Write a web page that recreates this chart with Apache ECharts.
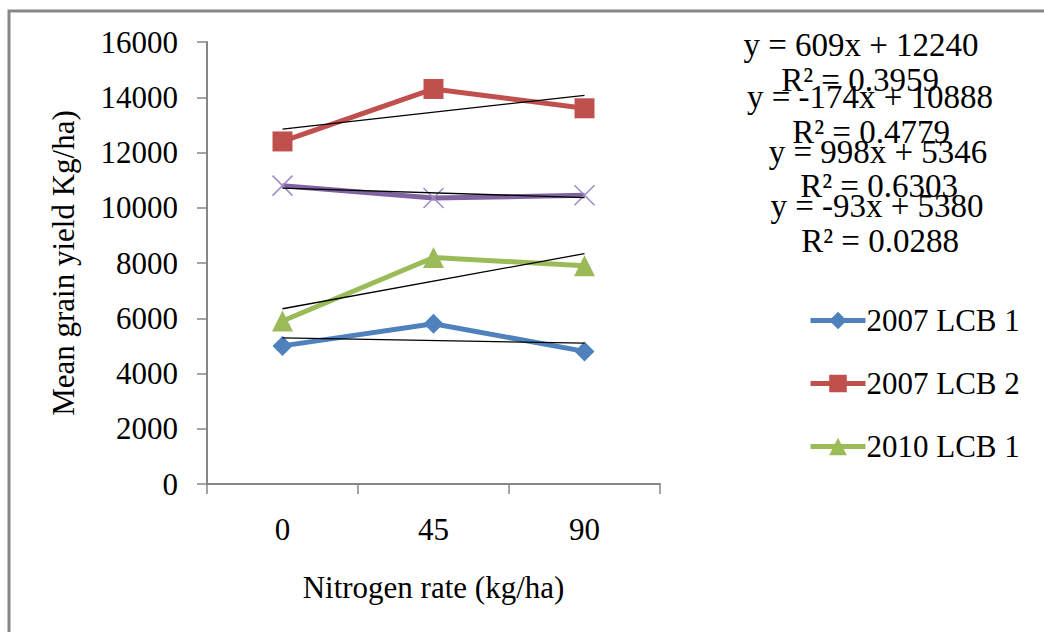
<!DOCTYPE html>
<html>
<head>
<meta charset="utf-8">
<script src="https://cdn.jsdelivr.net/npm/echarts@6/dist/echarts.min.js"></script>
<style>
  html, body { margin: 0; padding: 0; background: #fff; }
  #chart { width: 1044px; height: 632px; }
</style>
</head>
<body>
<div id="chart"></div>
<script>
// nitrogen rates (x categories)
const categories = ['0', '45', '90']
// mean grain yield per site/year
const lcb1_2007 = [5000, 5800, 4800]
const lcb2_2007 = [12400, 14300, 13600]
const lcb1_2010 = [5900, 8200, 7900]
const lcb2_2010 = [10800, 10350, 10450]
// linear trend lines as printed on the chart (x = 1..3)
const trendSlope = [609, -174, 998, -93]
const trendIntercept = [12240, 10888, 5346, 5380]
const trendR2 = ['0.3959', '0.4779', '0.6303', '0.0288']
const yTicks = { min: 0, max: 16000, interval: 2000 }

const font = 'Liberation Serif'
const chart = echarts.init(document.getElementById('chart'), null, { renderer: 'svg' })

function trendData(i) {
  return [[0, trendSlope[i] * 1 + trendIntercept[i]], [2, trendSlope[i] * 3 + trendIntercept[i]]]
}

// equation label positions (layout only)
const eqPos = [[861, 45, 860, 80], [870, 97, 871, 132], [878, 152, 879, 186], [877, 206, 880, 241]]
const eqGraphics = []
trendSlope.forEach((s, i) => {
  const p = eqPos[i]
  const sign = trendIntercept[i] >= 0 ? ' + ' : ' - '
  eqGraphics.push({
    type: 'text', x: p[0], y: p[1], silent: true, z: 10,
    style: { text: 'y = ' + s + 'x' + sign + Math.abs(trendIntercept[i]), fontSize: 33, fontFamily: font, fill: '#000', align: 'center', verticalAlign: 'middle' }
  })
  eqGraphics.push({
    type: 'text', x: p[2], y: p[3], silent: true, z: 10,
    style: { text: 'R² = ' + trendR2[i], fontSize: 33, fontFamily: font, fill: '#000', align: 'center', verticalAlign: 'middle' }
  })
})

const seriesColor = ['#4F81BD', '#C0504D', '#9BBB59', '#8064A2']

function mainSeries(name, data, color, symbol, size, extra) {
  return Object.assign({
    name: name,
    type: 'line',
    data: data,
    symbol: symbol,
    symbolSize: size,
    lineStyle: { color: color, width: 5 },
    itemStyle: { color: color },
    z: 3,
    animation: false
  }, extra || {})
}

function trendSeries(i) {
  return {
    name: 'trend' + i,
    type: 'line',
    data: trendData(i),
    symbol: 'none',
    lineStyle: { color: '#000', width: 1.3 },
    z: 5,
    silent: true,
    animation: false
  }
}

chart.setOption({
  backgroundColor: '#fff',
  textStyle: { fontFamily: font },
  grid: { left: 207, right: 384, top: 42, bottom: 148 },
  legend: {
    data: ['2007 LCB 1', '2007 LCB 2', '2010 LCB 1'],
    orient: 'vertical',
    left: 803,
    top: 300,
    itemWidth: 55,
    itemHeight: 22,
    itemGap: 32,
    lineStyle: { width: 5 },
    textStyle: { fontSize: 31, fontFamily: font, color: '#000', padding: [0, 0, 0, -4] }
  },
  xAxis: {
    type: 'category',
    data: categories,
    boundaryGap: true,
    name: 'Nitrogen rate (kg/ha)',
    nameLocation: 'middle',
    nameGap: 88,
    nameTextStyle: { fontSize: 31, fontFamily: font, color: '#000' },
    axisLine: { lineStyle: { color: '#868686', width: 2 } },
    axisTick: { show: true, length: 10, alignWithLabel: false, lineStyle: { color: '#868686', width: 1.5 } },
    axisLabel: { fontSize: 31, fontFamily: font, color: '#000', margin: 30 },
    splitLine: { show: false }
  },
  yAxis: {
    type: 'value',
    min: yTicks.min,
    max: yTicks.max,
    interval: yTicks.interval,
    name: 'Mean grain yield Kg/ha)',
    nameLocation: 'middle',
    nameGap: 128,
    nameTextStyle: { fontSize: 31, fontFamily: font, color: '#000' },
    axisLine: { show: true, lineStyle: { color: '#868686', width: 2 } },
    axisTick: { show: true, length: 10, lineStyle: { color: '#868686', width: 1.5 } },
    axisLabel: { fontSize: 31, fontFamily: font, color: '#000', margin: 29, formatter: v => String(v) },
    splitLine: { show: false }
  },
  graphic: [{
    type: 'rect', silent: true, z: -10,
    shape: { x: 9, y: 11, width: 1100, height: 700 },
    style: { fill: 'none', stroke: '#878787', lineWidth: 3 }
  }].concat(eqGraphics),
  series: [
    mainSeries('2007 LCB 1', lcb1_2007, seriesColor[0], 'diamond', 20),
    mainSeries('2007 LCB 2', lcb2_2007, seriesColor[1], 'rect', 20),
    mainSeries('2010 LCB 1', lcb1_2010, seriesColor[2], 'triangle', 21),
    mainSeries('2010 LCB 2', lcb2_2010, seriesColor[3], 'path://M0,0L10,10M10,0L0,10', 20, {
      itemStyle: { color: 'none', borderColor: '#9d8bc4', borderWidth: 1.5 }
    }),
    trendSeries(0),
    trendSeries(1),
    trendSeries(2),
    trendSeries(3)
  ]
})
</script>
</body>
</html>
